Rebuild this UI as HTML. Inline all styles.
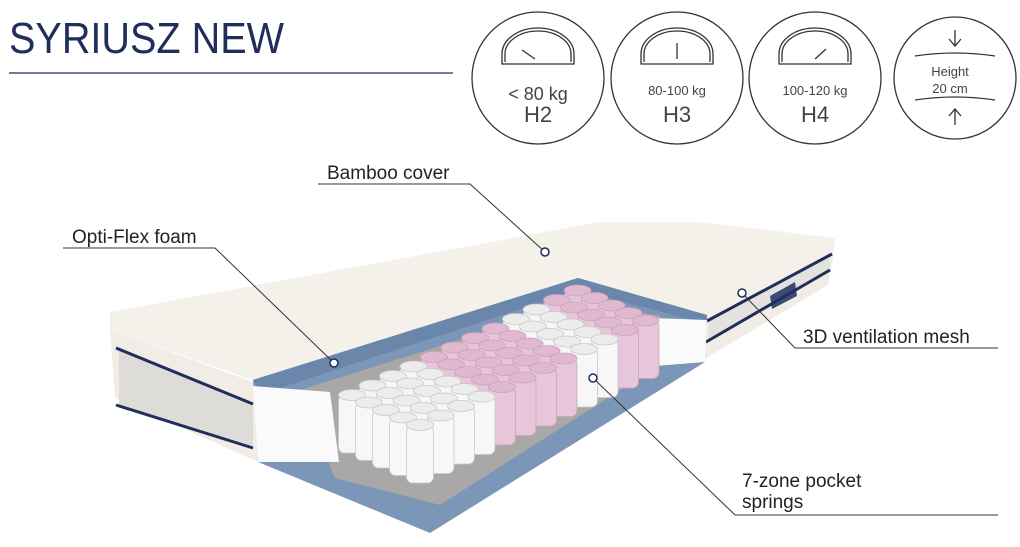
<!DOCTYPE html>
<html><head><meta charset="utf-8"><style>
body{margin:0;background:#fff;}
svg{display:block;font-family:"Liberation Sans",sans-serif;}
</style></head><body>
<svg id="s" width="1020" height="547" viewBox="0 0 1020 547">
<defs>
<g id="cw"><rect x="-13.5" y="0" width="27" height="58" rx="6" fill="#f7f7f7" stroke="#c8c8c8" stroke-width="0.8"/><ellipse cx="0" cy="0" rx="13.5" ry="5.5" fill="#ececec" stroke="#c8c8c8" stroke-width="0.8"/></g>
<g id="cp"><rect x="-13.5" y="0" width="27" height="58" rx="6" fill="#e8c6da" stroke="#c9a3b9" stroke-width="0.8"/><ellipse cx="0" cy="0" rx="13.5" ry="5.5" fill="#e0b8cf" stroke="#c9a3b9" stroke-width="0.8"/></g>
</defs>
<text x="9" y="53" font-size="44" fill="#1f2e5a" textLength="275" lengthAdjust="spacingAndGlyphs">SYRIUSZ NEW</text>
<line x1="9" y1="73" x2="453" y2="73" stroke="#1f2e5a" stroke-width="1.3"/>
<g fill="none" stroke="#333" stroke-width="1.3">
<circle cx="538" cy="78" r="66"/><circle cx="677" cy="78" r="66"/><circle cx="815" cy="78" r="66"/><circle cx="955" cy="78" r="61"/>
<path d="M502 64 v-10 a36 26 0 0 1 72 0 v10 z M505 62 v-8 a33 23 0 0 1 66 0 v8"/>
<path d="M641 64 v-10 a36 26 0 0 1 72 0 v10 z M644 62 v-8 a33 23 0 0 1 66 0 v8"/>
<path d="M779 64 v-10 a36 26 0 0 1 72 0 v10 z M782 62 v-8 a33 23 0 0 1 66 0 v8"/>
<line x1="522" y1="50" x2="535" y2="59"/><line x1="677" y1="43" x2="677" y2="59"/><line x1="826" y1="49" x2="815" y2="59"/>
<path d="M955 30 v15 M949 39 l6 7 6-7 M955 125 v-15 M949 116 l6-7 6 7 M915 56 q40-6 80 0 M915 100 q40-6 80 0"/>
</g>
<g fill="#444" text-anchor="middle">
<text x="538" y="100" font-size="18">&lt; 80 kg</text><text x="538" y="122" font-size="22">H2</text>
<text x="677" y="95" font-size="13">80-100 kg</text><text x="677" y="122" font-size="22">H3</text>
<text x="815" y="95" font-size="13">100-120 kg</text><text x="815" y="122" font-size="22">H4</text>
<text x="950" y="76" font-size="13">Height</text><text x="950" y="93" font-size="13">20 cm</text>
</g>
<!-- mattress -->
<polygon points="110,312 600,222 700,222 835,238 833,258 707,318 578,278 253,380 110,330" fill="#f4f0ea"/>
<polygon points="110,330 253,382 258,462 115,398" fill="#f1ede6"/>
<polygon points="119,350 253,404 253,447 119,406" fill="#dedcd8"/>
<polygon points="707,318 833,258 828,285 703,360" fill="#f1ede6"/>
<polygon points="709,322 831,255 829,271 708,342" fill="#e4e2df"/>
<polygon points="770,296 795,282 797,296 772,309" fill="#3b4a78"/>
<path d="M116,348 L253,404 M116,405 L253,448 M707,321 L832,254 M706,342 L830,270" stroke="#1f2e5a" stroke-width="3" fill="none"/>
<polygon points="253,380 578,278 707,315 705,362 430,533 258,462" fill="#7c96b7"/>
<polygon points="253,380 578,278 707,315 707,324 578,290 262,394" fill="#6a86aa"/>
<polygon points="300,390 580,302 660,316 655,368 440,505 335,478" fill="#a9a8a6"/>
<polygon points="253,386 330,392 339,462 258,462" fill="#fafafa"/>
<polygon points="652,318 707,320 705,362 655,366" fill="#fafafa"/>
<g id="springs"></g>
<!-- callouts -->
<g stroke="#333" fill="none" stroke-width="1">
<polyline points="318,184 470,184 545,252"/>
<polyline points="63,248 215,248 334,363"/>
<polyline points="998,348 795,348 742,293"/>
<polyline points="998,515 735,515 593,378"/>
</g>
<g fill="#fff" stroke="#1f2e5a" stroke-width="1.5">
<circle cx="545" cy="252" r="4"/><circle cx="334" cy="363" r="4"/><circle cx="742" cy="293" r="4"/><circle cx="593" cy="378" r="4"/>
</g>
<g fill="#222" font-size="19">
<text x="327" y="179">Bamboo cover</text>
<text x="72" y="243">Opti-Flex foam</text>
<text x="803" y="343">3D ventilation mesh</text>
<text x="742" y="487">7-zone pocket</text>
<text x="742" y="508">springs</text>
</g>
</svg>
<script>
var g=document.getElementById('springs'),h='';
for(var j=4;j>=0;j--){for(var i=11;i>=0;i--){
var x=420+20.5*i-17*j,y=425-9.5*i-7.5*j;
var pink=(i>=4&&i<=7)||i>=10;
h+='<use href="#'+(pink?'cp':'cw')+'" x="'+x.toFixed(1)+'" y="'+y.toFixed(1)+'"/>';}}
g.innerHTML=h;
</script>
</body></html>
